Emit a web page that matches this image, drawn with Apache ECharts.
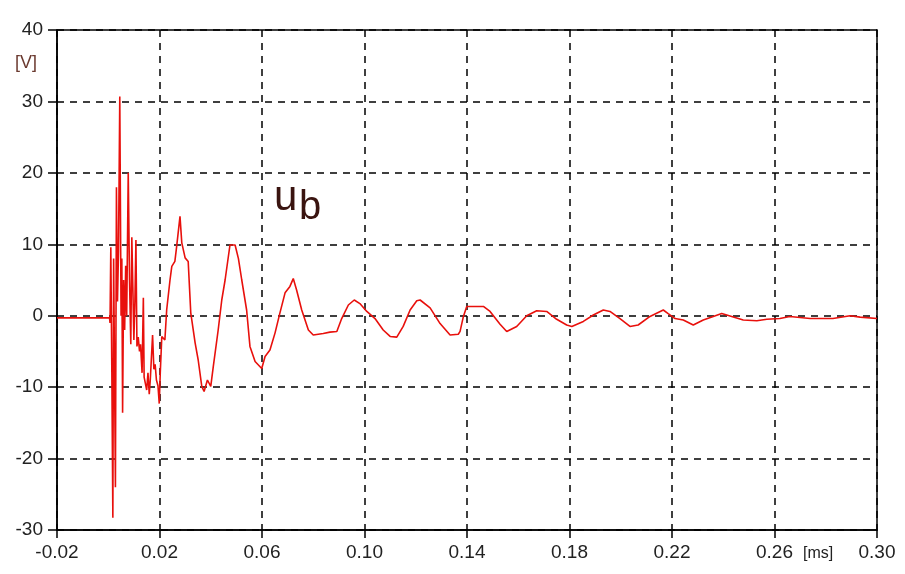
<!DOCTYPE html>
<html>
<head>
<meta charset="utf-8">
<script src="https://cdn.jsdelivr.net/npm/echarts@6/dist/echarts.min.js"></script>
<style>html,body{margin:0;padding:0;background:#fff}#c{width:905px;height:574px}</style>
</head>
<body>
<div id="c"></div>
<script>
// time in ms
const timeMs = [
  -0.020, 0.0005, 0.0007, 0.0010, 0.0014, 0.0018, 0.0021, 0.0025, 0.0028, 0.0032,
  0.0036, 0.0040, 0.0045, 0.0050, 0.0053, 0.0056, 0.0060, 0.0064, 0.0068, 0.0072,
  0.0078, 0.0083, 0.0088, 0.0092, 0.0096, 0.0100, 0.0104, 0.0108, 0.0112, 0.0117,
  0.0122, 0.0126, 0.0132, 0.0137, 0.0140, 0.0145, 0.0150, 0.0155, 0.0160, 0.0164,
  0.0173, 0.0178, 0.0183, 0.0188, 0.0194, 0.0199, 0.0203, 0.0209, 0.0221, 0.0228,
  0.0241, 0.0248, 0.0260, 0.0267, 0.0280, 0.0287, 0.0300, 0.0312, 0.0322, 0.0339,
  0.0351, 0.0365, 0.0374, 0.0387, 0.0400, 0.0410, 0.0429, 0.0443, 0.0456, 0.0475,
  0.0495, 0.0508, 0.0521, 0.0540, 0.0553, 0.0573, 0.0599, 0.0612, 0.0631, 0.0651,
  0.0670, 0.0690, 0.0709, 0.0722, 0.0735, 0.0755, 0.0781, 0.0800, 0.0839, 0.0865,
  0.0892, 0.0911, 0.0937, 0.0960, 0.0982, 0.1009, 0.1041, 0.1073, 0.1100, 0.1126,
  0.1151, 0.1178, 0.1204, 0.1217, 0.1256, 0.1295, 0.1334, 0.1366, 0.1373, 0.1386,
  0.1399, 0.1464, 0.1490, 0.1529, 0.1555, 0.1594, 0.1633, 0.1672, 0.1711, 0.1750,
  0.1789, 0.1809, 0.1854, 0.1893, 0.1932, 0.1958, 0.1997, 0.2036, 0.2068, 0.2114,
  0.2166, 0.2185, 0.2212, 0.2244, 0.2283, 0.2322, 0.2361, 0.2394, 0.2433, 0.2478,
  0.2531, 0.2570, 0.2621, 0.2660, 0.2739, 0.2828, 0.2895, 0.2934, 0.3000
];
// voltage in V
const voltageV = [
  -0.3, -0.3, -1.0, 9.6, -7.8, -28.3, 8.0, -10.0, -24.0, 18.0,
  2.0, 9.0, 30.7, 0.0, 8.0, -13.6, 5.0, -2.0, 7.0, 0.0,
  20.0, 5.0, -4.0, 11.0, 4.0, -3.4, 2.0, 10.6, -4.3, -3.0,
  -5.0, -4.0, -8.0, 2.5, -8.6, -9.5, -10.4, -8.0, -11.0, -9.0,
  -2.7, -7.5, -6.8, -9.0, -9.8, -12.3, -8.0, -2.9, -3.4, 0.8,
  5.0, 6.9, 7.6, 9.7, 13.9, 10.2, 8.1, 7.6, 0.4, -3.8,
  -6.2, -9.9, -10.6, -9.0, -9.9, -7.1, -2.0, 2.2, 5.0, 9.9,
  9.9, 8.0, 5.0, 0.8, -4.3, -6.4, -7.4, -5.7, -4.8, -2.4,
  0.4, 3.2, 4.1, 5.2, 3.6, 0.8, -2.0, -2.7, -2.5, -2.3,
  -2.2, -0.4, 1.5, 2.2, 1.7, 0.6, -0.4, -2.0, -2.9, -3.0,
  -1.5, 0.8, 2.1, 2.2, 1.1, -1.1, -2.7, -2.6, -2.2, -0.1,
  1.3, 1.3, 0.6, -1.2, -2.2, -1.5, 0.0, 0.7, 0.6, -0.5,
  -1.3, -1.5, -0.8, 0.1, 0.8, 0.6, -0.4, -1.5, -1.3, -0.1,
  0.8, 0.3, -0.4, -0.6, -1.3, -0.6, -0.1, 0.3, -0.1, -0.6,
  -0.7, -0.5, -0.4, -0.1, -0.4, -0.4, 0.0, -0.2, -0.4
];
const xTicks = [-0.02, 0.02, 0.06, 0.10, 0.14, 0.18, 0.22, 0.26, 0.30];
const yTicks = [-30, -20, -10, 0, 10, 20, 30, 40];

const seriesData = timeMs.map((t, i) => [t, voltageV[i]]);
const font = 'Liberation Sans, Arial, sans-serif';

const chart = echarts.init(document.getElementById('c'), null, {renderer: 'canvas'});
chart.setOption({
  animation: false,
  backgroundColor: '#fff',
  grid: {left: 57, right: 28, top: 30, bottom: 44, show: true, borderColor: '#000', borderWidth: 1.5, backgroundColor: 'transparent'},
  xAxis: {
    type: 'value',
    min: xTicks[0], max: xTicks[xTicks.length - 1], interval: 0.04,
    axisLine: {show: true, onZero: false, lineStyle: {color: '#000', width: 1.5}},
    axisTick: {show: true, length: 8, lineStyle: {color: '#000', width: 1.5}, customValues: xTicks},
    axisLabel: {color: '#222', fontSize: 19, fontFamily: font, margin: 13, customValues: xTicks,
      formatter: v => (Math.abs(v) < 1e-9 ? 0 : v).toFixed(2)},
    splitLine: {show: true, lineStyle: {color: '#000', width: 1.5, type: [7, 6]}}
  },
  yAxis: {
    type: 'value',
    min: yTicks[0], max: yTicks[yTicks.length - 1], interval: 10,
    axisLine: {show: true, onZero: false, lineStyle: {color: '#000', width: 1.5}},
    axisTick: {show: true, length: 9, lineStyle: {color: '#000', width: 1.5}},
    axisLabel: {color: '#222', fontSize: 19, fontFamily: font, margin: 14},
    splitLine: {show: true, lineStyle: {color: '#000', width: 1.5, type: [7, 6]}}
  },
  graphic: [
    {type: 'text', left: 15, top: 54, style: {text: '[V]', fill: '#6b3a30', font: '18px ' + font}},
    {type: 'text', left: 803, top: 546, style: {text: '[ms]', fill: '#222', font: '16px ' + font}},
    {type: 'text', left: 274, top: 177, style: {text: 'u', fill: '#3a1410', font: '42px ' + font}},
    {type: 'text', left: 299, top: 188, style: {text: 'b', fill: '#3a1410', font: '40px ' + font}}
  ],
  series: [{
    type: 'line',
    data: seriesData,
    showSymbol: false,
    lineStyle: {color: '#e8100c', width: 1.6},
    z: 5
  }]
});
</script>
</body>
</html>
